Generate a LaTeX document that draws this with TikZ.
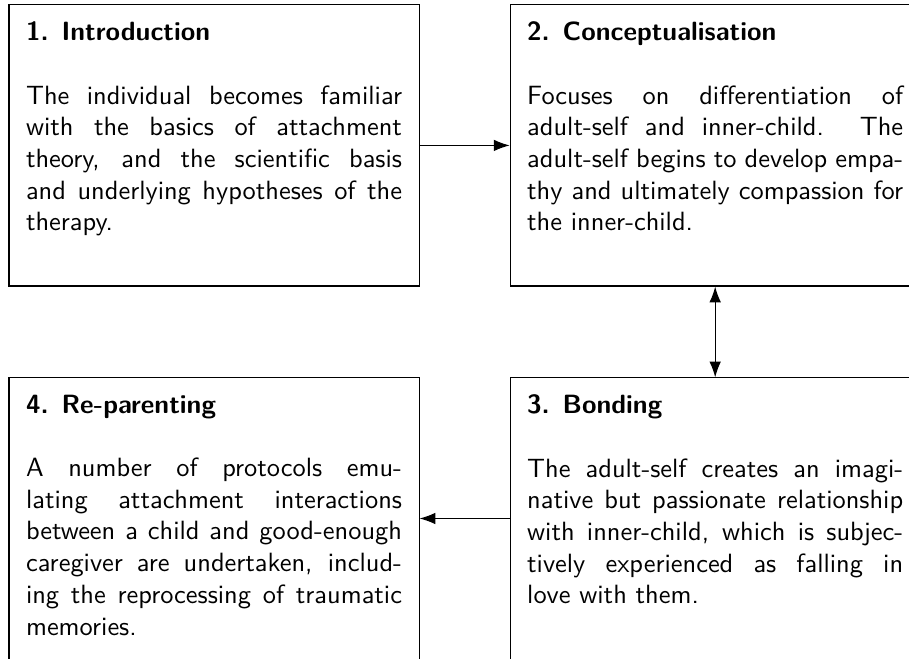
\documentclass[tikz,border=0pt]{standalone}
\usepackage{tikz}
\usetikzlibrary{arrows.meta}

\newcommand{\stagetext}[2]{\parbox[t][93.6pt][t]{142.4pt}{\hbadness=10000\textbf{#1}\par\vspace{\baselineskip}#2}}

\begin{document}
\begin{tikzpicture}[
  stage/.style={rectangle, draw, inner sep=6.45pt, font=\sffamily},
  arrow/.style={-{Latex[length=6pt,width=4.4pt]}},
  dblarrow/.style={{Latex[length=6pt,width=4.4pt]}-{Latex[length=6pt,width=4.4pt]}}
]
  \useasboundingbox (0,0) rectangle (12.10,8.76);
  \clip (0,0) rectangle (12.10,8.76);

  \node[stage] (intro) at (2.849,6.824) {\stagetext{1. Introduction}{The individual becomes familiar\linebreak with the basics of attachment\linebreak theory, and the scientific basis\linebreak and underlying hypotheses of the\linebreak therapy.}};

  \node[stage] (concept) at (9.520,6.824) {\stagetext{2. Conceptualisation}{Focuses on differentiation of\linebreak adult-self and inner-child. The\linebreak adult-self begins to develop empa-\linebreak thy and ultimately compassion for\linebreak the inner-child.}};

  \node[stage] (bond) at (9.520,1.858) {\stagetext{3. Bonding}{The adult-self creates an imagi-\linebreak native but passionate relationship\linebreak with inner-child, which is subjec-\linebreak tively experienced as falling in\linebreak love with them.}};

  \node[stage] (reparent) at (2.849,1.858) {\stagetext{4. Re-parenting}{A number of protocols emu-\linebreak lating attachment interactions\linebreak between a child and good-enough\linebreak caregiver are undertaken, includ-\linebreak ing the reprocessing of traumatic\linebreak memories.}};

  \draw[arrow] (intro) -- (concept);
  \draw[dblarrow] (concept) -- (bond);
  \draw[arrow] (bond) -- (reparent);
\end{tikzpicture}
\end{document}
